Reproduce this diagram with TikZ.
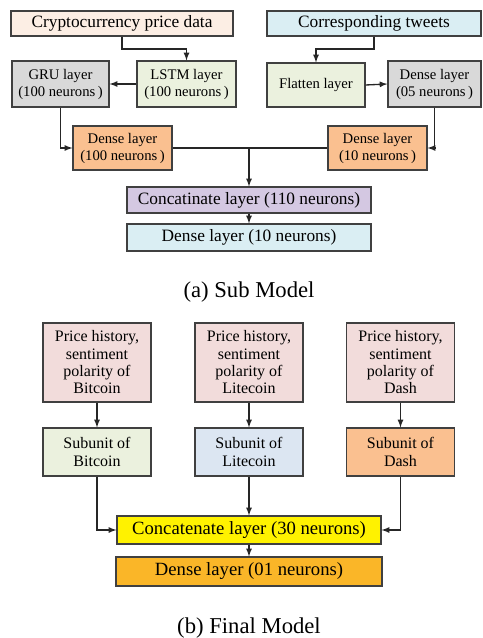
\documentclass[tikz,border=0pt]{standalone}
\usepackage{fontspec}
\setmainfont{Liberation Serif}
\usepackage{tikz}
\usetikzlibrary{arrows}

\definecolor{peach}{RGB}{252,238,228}
\definecolor{skyblue}{RGB}{218,238,243}
\definecolor{greybox}{RGB}{217,217,217}
\definecolor{greenbox}{RGB}{235,241,222}
\definecolor{orangebox}{RGB}{250,192,144}
\definecolor{lavender}{RGB}{212,200,226}
\definecolor{pinkbox}{RGB}{242,220,219}
\definecolor{bluebox}{RGB}{220,230,242}
\definecolor{goldbox}{RGB}{250,182,40}

\tikzset{
  layer/.style={draw=black!75, line width=0.9pt, align=center, inner sep=0pt},
  arr/.style={->, >=latex, line width=1pt, black!85},
  big/.style={font=\fontsize{13}{15}\selectfont},
  small/.style={font=\fontsize{11}{12.75}\selectfont},
  part/.style={font=\fontsize{12}{13}\selectfont},
}

\begin{document}
\begin{tikzpicture}[x=0.75pt, y=-0.75pt]
    \useasboundingbox (0,0) rectangle (482,638);
    % sub model
    \node[layer, big, fill=peach, minimum width=166.5pt, minimum height=18.75pt] (crypto) at (122,23.5) {Cryptocurrency price data};
    \node[layer, big, fill=skyblue, minimum width=160.5pt, minimum height=18.75pt] (tweets) at (374,23.5) {Corresponding tweets};
    \node[layer, small, fill=greybox, minimum width=72.75pt, minimum height=34.5pt] (gru) at (60.5,84) {GRU layer\\(100 neurons\,)};
    \node[layer, small, fill=greenbox, minimum width=74.25pt, minimum height=34.5pt] (lstm) at (186.5,84) {LSTM layer\\(100 neurons\,)};
    \node[layer, small, fill=greenbox, minimum width=73.5pt, minimum height=33pt] (flatten) at (316,85) {Flatten layer};
    \node[layer, small, fill=greybox, minimum width=69.75pt, minimum height=34.5pt] (dfive) at (434.5,84) {Dense layer\\(05 neurons\,)};
    \node[layer, small, fill=orangebox, minimum width=74.25pt, minimum height=33pt] (dhundred) at (122.5,148) {Dense layer\\(100 neurons\,)};
    \node[layer, small, fill=orangebox, minimum width=74.25pt, minimum height=33pt] (dten) at (377.5,148) {Dense layer\\(10 neurons\,)};
    \node[layer, big, fill=lavender, minimum width=183pt, minimum height=19.5pt] (concat) at (249,200) {Concatinate layer (110 neurons)};
    \node[layer, big, fill=skyblue, minimum width=183pt, minimum height=20.25pt] (dout) at (249,237.5) {Dense layer (10 neurons)};
    \node[font=\fontsize{17}{19}\selectfont] (capa) at (249,292) {(a) Sub Model};
    \draw[arr] (crypto.south) -- ++(0,12.5) -| (lstm.north);
    \draw[arr] (tweets.south) -- ++(0,12.5) -| (flatten.north);
    \draw[arr] (lstm.west) -- (gru.east);
    \draw[arr] (flatten.east) -- (dfive.west);
    \draw[arr] (gru.south) |- (dhundred.west);
    \draw[arr] (dfive.south) |- (dten.east);
    \draw[line width=1pt, black!85] (dhundred.east) -- (dten.west);
    \coordinate (join) at (dhundred.east -| concat.north);
    \draw[arr] (join) -- (concat.north);
    \draw[arr] (concat.south) -- (dout.north);
    % final model
    \node[layer, part, fill=pinkbox, minimum width=81pt, minimum height=59.25pt] (pbtc) at (97,362.5) {Price history,\\sentiment\\polarity of\\Bitcoin};
    \node[layer, part, fill=pinkbox, minimum width=81pt, minimum height=59.25pt] (pltc) at (249,362.5) {Price history,\\sentiment\\polarity of\\Litecoin};
    \node[layer, part, fill=pinkbox, minimum width=81pt, minimum height=59.25pt] (pdash) at (400.5,362.5) {Price history,\\sentiment\\polarity of\\Dash};
    \node[layer, part, fill=greenbox, minimum width=81pt, minimum height=36pt] (sbtc) at (97,452) {Subunit of\\Bitcoin};
    \node[layer, part, fill=bluebox, minimum width=81pt, minimum height=36pt] (sltc) at (249,452) {Subunit of\\Litecoin};
    \node[layer, part, fill=orangebox, minimum width=81pt, minimum height=36pt] (sdash) at (400.5,452) {Subunit of\\Dash};
    \node[layer, font=\fontsize{14}{16}\selectfont, fill=yellow, minimum width=198pt, minimum height=21pt] (cat) at (249,530) {Concatenate layer (30 neurons)};
    \node[layer, font=\fontsize{14}{16}\selectfont, fill=goldbox, minimum width=199.5pt, minimum height=21.75pt] (done) at (249,571.5) {Dense layer (01 neurons)};
    \node[font=\fontsize{17}{19}\selectfont] (capb) at (249,628) {(b) Final Model};
    \foreach \c in {btc,ltc,dash}
        \draw[arr] (p\c.south) -- (s\c.north);
    \draw[arr] (sbtc.south) |- (cat.west);
    \draw[arr] (sltc.south) -- (cat.north);
    \draw[arr] (sdash.south) |- (cat.east);
    \draw[arr] (cat.south) -- (done.north);
\end{tikzpicture}
\end{document}
